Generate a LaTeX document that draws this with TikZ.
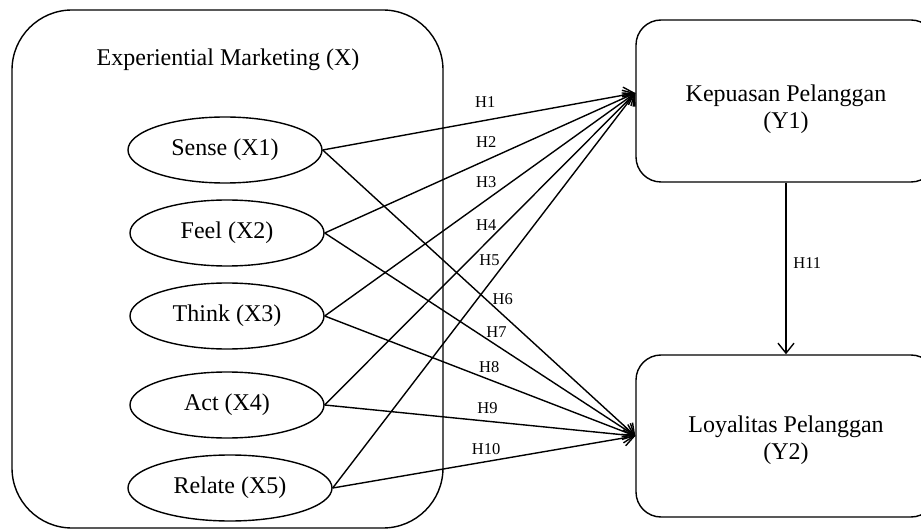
\documentclass[tikz,border=0pt]{standalone}
\usepackage{fontspec}
\setmainfont{Liberation Serif}
\usetikzlibrary{shapes.geometric,arrows.meta}
\begin{document}
\begin{tikzpicture}[x=.5pt,y=-.5pt,font=\fontsize{12}{13.5}\selectfont,line width=.7pt,
  dim/.style={draw,ellipse,minimum width=97pt,minimum height=33pt,inner sep=0pt},
  var/.style={draw,rounded corners=12.5pt,minimum width=150pt,minimum height=81pt},
  hyp/.style={-{Straight Barb[length=5pt,width=8pt]}},
  lbl/.style={font=\fontsize{8.25}{9}\selectfont}]
\useasboundingbox (0,0) rectangle (921,529);
\draw[rounded corners=30pt] (12,10) rectangle (443,528);
\node (xttl) at (228,60) {Experiential Marketing (X)};
\node[dim] (x1) at (225,150) {Sense (X1)};
\node[dim] (x2) at (227,233) {Feel (X2)};
\node[dim] (x3) at (227,316) {Think (X3)};
\node[dim] (x4) at (227,405) {Act (X4)};
\node[dim,minimum width=102pt] (x5) at (230,488) {Relate (X5)};
\node[var] (y1) at (786,101) {};
\node[align=center] (y1txt) at ([yshift=-4pt]y1.center) {Kepuasan Pelanggan\\(Y1)};
\node[var] (y2) at (786,436) {};
\node[align=center] (y2txt) at ([yshift=-2pt]y2.center) {Loyalitas Pelanggan\\(Y2)};
\coordinate (y1in) at ([yshift=4pt]y1.west);
\coordinate (y2in) at (y2.west);
\draw[hyp] (x1.east)--(y1in) node[lbl,pos=.52,above=2.5pt] {H1};
\draw[hyp] (x2.east)--(y1in) node[lbl,pos=.52,above=2.5pt] {H2};
\draw[hyp] (x3.east)--(y1in) node[lbl,pos=.52,above=2.5pt] {H3};
\draw[hyp] (x4.east)--(y1in) node[lbl,pos=.52,above=2.5pt] {H4};
\draw[hyp] (x5.east)--(y1in) node[lbl,pos=.576,left] {H5};
\draw[hyp] (x1.east)--(y2in) node[lbl,pos=.52,right] {H6};
\draw[hyp] (x2.east)--(y2in) node[lbl,pos=.553,above] {H7};
\draw[hyp] (x3.east)--(y2in) node[lbl,pos=.53,above] {H8};
\draw[hyp] (x4.east)--(y2in) node[lbl,pos=.524,above] {H9};
\draw[hyp] (x5.east)--(y2in) node[lbl,pos=.507,above] {H10};
\draw[hyp] (y1)--(y2) node[lbl,pos=.47,right] {H11};
\end{tikzpicture}
\end{document}
